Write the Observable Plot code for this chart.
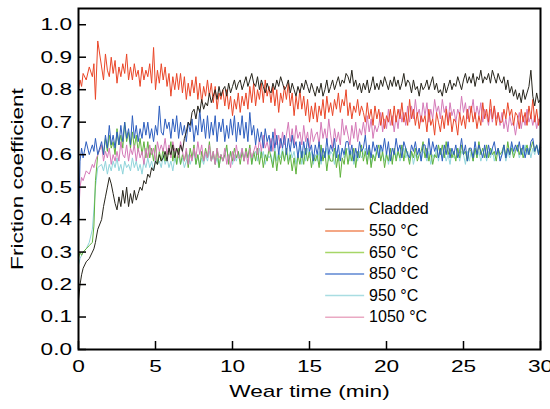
<!DOCTYPE html>
<html><head><meta charset="utf-8">
<script src="https://cdn.jsdelivr.net/npm/d3@7"></script>
<script src="https://cdn.jsdelivr.net/npm/@observablehq/plot@0.6"></script>
<style>
html,body{margin:0;padding:0;background:#fff;}
</style>
</head><body><div id="chart"></div>
<script>
const series = ["Cladded", "550 °C", "650 °C", "850 °C", "950 °C", "1050 °C"];
const xTicks = [0, 5, 10, 15, 20, 25, 30];
const yTicks = [0, 0.1, 0.2, 0.3, 0.4, 0.5, 0.6, 0.7, 0.8, 0.9, 1.0];

const time = [
0,0.1,0.2,0.3,0.5,0.7,0.9,1,1.1,1.25,
1.5,1.625,1.75,1.875,2,2.125,2.25,2.375,
2.5,2.625,2.75,2.875,3,3.125,3.25,3.375,
3.5,3.625,3.75,3.875,4,4.125,4.25,4.375,
4.5,4.625,4.75,4.875,5,5.125,5.25,5.375,
5.5,5.625,5.75,5.875,6,6.125,6.25,6.375,
6.5,6.625,6.75,6.875,7,7.125,7.25,7.375,
7.5,7.625,7.75,7.875,8,8.125,8.25,8.375,
8.5,8.625,8.75,8.875,9,9.125,9.25,9.375,
9.5,9.625,9.75,9.875,10,10.125,10.25,10.375,
10.5,10.625,10.75,10.875,11,11.125,11.25,11.375,
11.5,11.625,11.75,11.875,12,12.125,12.25,12.375,
12.5,12.625,12.75,12.875,13,13.125,13.25,13.375,
13.5,13.625,13.75,13.875,14,14.125,14.25,14.375,
14.5,14.625,14.75,14.875,15,15.125,15.25,15.375,
15.5,15.625,15.75,15.875,16,16.125,16.25,16.375,
16.5,16.625,16.75,16.875,17,17.125,17.25,17.375,
17.5,17.625,17.75,17.875,18,18.125,18.25,18.375,
18.5,18.625,18.75,18.875,19,19.125,19.25,19.375,
19.5,19.625,19.75,19.875,20,20.125,20.25,20.375,
20.5,20.625,20.75,20.875,21,21.125,21.25,21.375,
21.5,21.625,21.75,21.875,22,22.125,22.25,22.375,
22.5,22.625,22.75,22.875,23,23.125,23.25,23.375,
23.5,23.625,23.75,23.875,24,24.125,24.25,24.375,
24.5,24.625,24.75,24.875,25,25.125,25.25,25.375,
25.5,25.625,25.75,25.875,26,26.125,26.25,26.375,
26.5,26.625,26.75,26.875,27,27.125,27.25,27.375,
27.5,27.625,27.75,27.875,28,28.125,28.25,28.375,
28.5,28.625,28.75,28.875,29,29.125,29.25,29.375,
29.5,29.625,29.75,29.875,30];

const cladded = [
0.15,0.20,0.23,0.25,0.27,0.28,0.30,0.31,0.33,0.37,
0.40,0.44,0.47,0.50,0.53,0.51,0.48,0.45,
0.43,0.47,0.44,0.49,0.45,0.50,0.44,0.48,
0.45,0.49,0.46,0.48,0.50,0.49,0.52,0.51,
0.54,0.53,0.56,0.55,0.58,0.57,0.60,0.58,
0.59,0.61,0.58,0.62,0.60,0.63,0.59,0.62,
0.60,0.63,0.61,0.65,0.67,0.70,0.69,0.73,
0.74,0.71,0.75,0.73,0.77,0.74,0.76,0.75,
0.79,0.76,0.78,0.80,0.77,0.81,0.78,0.80,
0.81,0.78,0.82,0.79,0.81,0.83,0.80,0.82,
0.83,0.80,0.82,0.84,0.81,0.83,0.85,0.82,
0.81,0.84,0.80,0.83,0.81,0.79,0.82,0.80,
0.79,0.82,0.80,0.83,0.81,0.84,0.82,0.80,
0.81,0.83,0.79,0.82,0.80,0.78,0.81,0.79,
0.82,0.80,0.83,0.81,0.79,0.82,0.80,0.78,
0.81,0.79,0.82,0.78,0.80,0.83,0.79,0.81,
0.83,0.80,0.82,0.84,0.81,0.83,0.82,0.85,
0.84,0.82,0.86,0.81,0.83,0.80,0.82,0.79,
0.82,0.80,0.83,0.79,0.81,0.84,0.80,0.82,
0.80,0.83,0.81,0.84,0.82,0.80,0.83,0.81,
0.84,0.81,0.83,0.80,0.82,0.85,0.81,0.83,
0.82,0.79,0.83,0.80,0.81,0.78,0.82,0.80,
0.81,0.83,0.80,0.82,0.84,0.80,0.82,0.79,
0.80,0.78,0.82,0.79,0.81,0.83,0.80,0.82,
0.81,0.84,0.82,0.80,0.83,0.85,0.82,0.84,
0.82,0.85,0.81,0.84,0.83,0.86,0.82,0.84,
0.83,0.85,0.82,0.86,0.84,0.82,0.85,0.83,
0.82,0.84,0.80,0.83,0.79,0.81,0.78,0.80,
0.77,0.79,0.76,0.80,0.77,0.79,0.81,0.86,
0.78,0.75,0.79,0.76,0.77];

const c550 = [
0.80,0.83,0.81,0.85,0.83,0.87,0.84,0.88,0.77,0.95,
0.87,0.83,0.91,0.86,0.84,0.90,0.85,0.89,
0.82,0.87,0.84,0.88,0.85,0.91,0.83,0.87,
0.83,0.88,0.84,0.86,0.81,0.87,0.83,0.86,
0.84,0.88,0.82,0.93,0.80,0.86,0.82,0.88,
0.83,0.87,0.81,0.85,0.78,0.84,0.80,0.85,
0.80,0.85,0.79,0.84,0.77,0.82,0.78,0.83,
0.79,0.84,0.77,0.82,0.76,0.81,0.78,0.83,
0.78,0.82,0.76,0.81,0.74,0.79,0.77,0.80,
0.75,0.80,0.74,0.78,0.72,0.77,0.74,0.79,
0.73,0.78,0.75,0.79,0.74,0.81,0.76,0.82,
0.75,0.80,0.77,0.82,0.76,0.83,0.78,0.81,
0.76,0.81,0.75,0.80,0.73,0.79,0.76,0.81,
0.77,0.82,0.75,0.79,0.72,0.78,0.74,0.80,
0.74,0.78,0.72,0.77,0.70,0.75,0.71,0.76,
0.70,0.75,0.72,0.77,0.71,0.78,0.73,0.76,
0.72,0.77,0.74,0.79,0.73,0.77,0.75,0.80,
0.72,0.76,0.71,0.75,0.73,0.77,0.72,0.75,
0.73,0.70,0.76,0.71,0.74,0.69,0.75,0.71,
0.74,0.69,0.73,0.68,0.72,0.70,0.74,0.69,
0.75,0.70,0.74,0.71,0.76,0.70,0.73,0.69,
0.77,0.71,0.74,0.69,0.73,0.68,0.72,0.70,
0.72,0.67,0.74,0.69,0.71,0.66,0.73,0.70,
0.67,0.72,0.68,0.74,0.69,0.73,0.67,0.71,
0.70,0.66,0.73,0.69,0.72,0.68,0.74,0.70,
0.75,0.70,0.73,0.68,0.72,0.69,0.76,0.71,
0.74,0.70,0.77,0.71,0.75,0.69,0.73,0.70,
0.70,0.74,0.71,0.76,0.72,0.74,0.69,0.73,
0.72,0.68,0.74,0.70,0.73,0.69,0.75,0.71,
0.77,0.70,0.74,0.69,0.72];

const c650 = [
0.28,0.30,0.29,0.30,0.31,0.32,0.33,0.38,0.52,0.60,
0.63,0.60,0.65,0.61,0.66,0.62,0.64,0.60,
0.68,0.63,0.66,0.62,0.70,0.64,0.67,0.62,
0.67,0.62,0.66,0.61,0.65,0.60,0.64,0.59,
0.64,0.59,0.62,0.58,0.63,0.57,0.61,0.58,
0.62,0.58,0.61,0.60,0.64,0.58,0.62,0.57,
0.62,0.57,0.60,0.58,0.61,0.56,0.62,0.59,
0.63,0.57,0.60,0.56,0.61,0.58,0.62,0.59,
0.64,0.58,0.61,0.57,0.62,0.56,0.60,0.58,
0.60,0.63,0.57,0.61,0.58,0.62,0.59,0.61,
0.57,0.61,0.58,0.62,0.59,0.63,0.57,0.61,
0.58,0.62,0.57,0.61,0.56,0.60,0.58,0.62,
0.59,0.56,0.61,0.55,0.60,0.57,0.61,0.58,
0.62,0.57,0.60,0.55,0.59,0.54,0.60,0.57,
0.61,0.57,0.62,0.58,0.61,0.56,0.60,0.58,
0.60,0.56,0.63,0.58,0.61,0.55,0.60,0.58,
0.58,0.62,0.56,0.60,0.53,0.59,0.57,0.62,
0.57,0.61,0.58,0.62,0.56,0.61,0.59,0.63,
0.58,0.61,0.57,0.62,0.56,0.60,0.58,0.61,
0.63,0.58,0.61,0.56,0.60,0.58,0.62,0.57,
0.62,0.58,0.61,0.59,0.63,0.58,0.62,0.60,
0.57,0.61,0.59,0.62,0.58,0.60,0.61,0.64,
0.59,0.62,0.58,0.61,0.57,0.60,0.59,0.63,
0.60,0.63,0.59,0.64,0.60,0.62,0.59,0.61,
0.58,0.62,0.59,0.63,0.60,0.61,0.58,0.62,
0.61,0.58,0.62,0.59,0.64,0.60,0.62,0.59,
0.63,0.59,0.62,0.60,0.61,0.58,0.62,0.60,
0.61,0.63,0.59,0.64,0.60,0.62,0.59,0.61,
0.63,0.60,0.62,0.59,0.61,0.63,0.60,0.62,
0.64,0.61,0.63,0.60,0.62];

const c850 = [
0.38,0.58,0.62,0.59,0.64,0.60,0.63,0.61,0.65,0.60,
0.64,0.60,0.66,0.62,0.69,0.63,0.66,0.62,
0.67,0.63,0.69,0.64,0.70,0.65,0.68,0.63,
0.72,0.65,0.69,0.64,0.68,0.65,0.70,0.66,
0.70,0.65,0.68,0.64,0.69,0.66,0.75,0.67,
0.66,0.71,0.68,0.70,0.65,0.71,0.67,0.72,
0.65,0.70,0.66,0.69,0.64,0.70,0.67,0.71,
0.64,0.69,0.66,0.74,0.67,0.71,0.65,0.72,
0.65,0.70,0.66,0.72,0.64,0.70,0.67,0.71,
0.64,0.69,0.65,0.71,0.66,0.72,0.64,0.70,
0.66,0.72,0.65,0.70,0.64,0.73,0.66,0.69,
0.63,0.68,0.64,0.67,0.62,0.68,0.64,0.66,
0.61,0.67,0.62,0.66,0.60,0.65,0.62,0.66,
0.60,0.65,0.61,0.66,0.62,0.64,0.59,0.64,
0.59,0.64,0.60,0.65,0.61,0.63,0.58,0.63,
0.60,0.64,0.58,0.62,0.59,0.65,0.60,0.63,
0.61,0.65,0.59,0.63,0.58,0.62,0.60,0.64,
0.64,0.60,0.63,0.58,0.62,0.59,0.64,0.61,
0.62,0.66,0.60,0.63,0.59,0.64,0.61,0.63,
0.59,0.63,0.61,0.65,0.60,0.64,0.58,0.62,
0.60,0.65,0.61,0.63,0.59,0.64,0.62,0.60,
0.59,0.63,0.61,0.64,0.60,0.62,0.58,0.63,
0.63,0.59,0.65,0.60,0.64,0.61,0.63,0.59,
0.62,0.58,0.63,0.60,0.64,0.59,0.62,0.60,
0.63,0.59,0.61,0.65,0.60,0.63,0.58,0.62,
0.62,0.59,0.64,0.60,0.63,0.61,0.59,0.63,
0.59,0.63,0.60,0.62,0.64,0.60,0.62,0.58,
0.60,0.63,0.59,0.62,0.60,0.64,0.61,0.63,
0.61,0.64,0.60,0.63,0.59,0.62,0.60,0.64,
0.65,0.61,0.63,0.60,0.64];

const c950 = [
0.26,0.28,0.29,0.30,0.31,0.33,0.37,0.43,0.50,0.56,
0.57,0.55,0.58,0.54,0.57,0.55,0.58,0.56,
0.59,0.55,0.57,0.54,0.58,0.56,0.57,0.55,
0.59,0.56,0.58,0.55,0.57,0.54,0.58,0.56,
0.59,0.56,0.58,0.55,0.59,0.57,0.58,0.56,
0.60,0.57,0.59,0.56,0.58,0.55,0.59,0.57,
0.60,0.57,0.59,0.56,0.58,0.60,0.57,0.59,
0.61,0.57,0.60,0.56,0.59,0.57,0.60,0.58,
0.61,0.58,0.60,0.57,0.59,0.56,0.60,0.58,
0.60,0.62,0.58,0.61,0.57,0.60,0.58,0.61,
0.59,0.62,0.58,0.61,0.59,0.62,0.57,0.60,
0.61,0.58,0.62,0.59,0.61,0.57,0.60,0.59,
0.60,0.57,0.62,0.58,0.61,0.59,0.62,0.58,
0.61,0.58,0.62,0.59,0.61,0.57,0.60,0.62,
0.57,0.61,0.58,0.62,0.59,0.61,0.57,0.60,
0.58,0.61,0.57,0.60,0.59,0.62,0.58,0.61,
0.60,0.57,0.61,0.58,0.60,0.62,0.59,0.61,
0.62,0.58,0.61,0.57,0.60,0.58,0.61,0.59,
0.60,0.62,0.58,0.61,0.57,0.60,0.59,0.62,
0.59,0.62,0.60,0.58,0.61,0.57,0.60,0.58,
0.61,0.59,0.62,0.58,0.60,0.62,0.59,0.61,
0.58,0.61,0.57,0.60,0.59,0.62,0.58,0.61,
0.60,0.58,0.61,0.57,0.60,0.59,0.62,0.58,
0.62,0.59,0.61,0.58,0.60,0.57,0.61,0.59,
0.59,0.62,0.58,0.61,0.60,0.57,0.61,0.58,
0.61,0.58,0.62,0.59,0.61,0.58,0.60,0.62,
0.58,0.61,0.59,0.62,0.58,0.60,0.61,0.59,
0.60,0.62,0.58,0.61,0.59,0.63,0.60,0.62,
0.62,0.59,0.61,0.60,0.63,0.60,0.62,0.59,
0.62,0.60,0.63,0.61,0.62];

const c1050 = [
0.40,0.50,0.53,0.52,0.55,0.54,0.57,0.56,0.58,0.60,
0.63,0.58,0.61,0.59,0.62,0.57,0.60,0.58,
0.61,0.58,0.64,0.60,0.59,0.63,0.58,0.62,
0.60,0.63,0.58,0.62,0.59,0.61,0.57,0.62,
0.59,0.63,0.60,0.62,0.58,0.64,0.61,0.63,
0.61,0.65,0.60,0.63,0.59,0.64,0.61,0.62,
0.59,0.64,0.61,0.58,0.62,0.57,0.60,0.58,
0.62,0.59,0.64,0.60,0.63,0.58,0.61,0.59,
0.63,0.58,0.61,0.57,0.62,0.59,0.60,0.58,
0.62,0.57,0.60,0.56,0.61,0.58,0.63,0.59,
0.59,0.62,0.58,0.61,0.57,0.62,0.59,0.61,
0.63,0.60,0.65,0.61,0.66,0.62,0.64,0.61,
0.65,0.61,0.68,0.63,0.66,0.62,0.67,0.63,
0.66,0.70,0.64,0.68,0.63,0.69,0.65,0.67,
0.63,0.69,0.64,0.67,0.62,0.68,0.64,0.66,
0.67,0.63,0.70,0.65,0.68,0.64,0.71,0.66,
0.62,0.68,0.64,0.67,0.63,0.71,0.66,0.69,
0.66,0.63,0.69,0.65,0.70,0.64,0.68,0.66,
0.70,0.66,0.72,0.67,0.71,0.65,0.69,0.67,
0.69,0.73,0.67,0.71,0.68,0.74,0.69,0.72,
0.67,0.72,0.68,0.74,0.70,0.73,0.69,0.75,
0.70,0.75,0.71,0.77,0.72,0.74,0.70,0.76,
0.72,0.76,0.70,0.74,0.71,0.77,0.73,0.75,
0.71,0.77,0.73,0.75,0.70,0.76,0.72,0.74,
0.70,0.74,0.72,0.78,0.73,0.76,0.71,0.75,
0.73,0.77,0.71,0.75,0.72,0.76,0.70,0.74,
0.72,0.69,0.74,0.70,0.75,0.71,0.73,0.69,
0.73,0.68,0.71,0.67,0.72,0.69,0.70,0.66,
0.70,0.73,0.68,0.72,0.69,0.74,0.70,0.72,
0.69,0.72,0.68,0.71,0.70];

const values = [cladded, c550, c650, c850, c950, c1050];
const lineColors = ["#27251c", "#ea4628", "#5fb23c", "#2d5ebf", "#8fd4db", "#d579b8"];
const legendColors = ["#8b806c", "#f08a5c", "#a6d667", "#5d86d2", "#a9dde2", "#eaa9c3"];
const drawOrder = [4, 2, 5, 3, 1, 0];

const rows = [];
for (const i of drawOrder) {
  const n = Math.min(time.length, values[i].length);
  for (let k = 0; k < n; k++) rows.push({t: time[k], v: values[i][k], s: series[i]});
}

// legend layout (in axis units)
const legendTop = 0.4315, legendStep = 0.0664, legendX1 = 16.05, legendX2 = 18.58, legendTextX = 18.87;
const legendRows = series.map((s, i) => ({s, ly: legendTop - i * legendStep, c: legendColors[i]}));

const plot = Plot.plot({
  width: 550, height: 409,
  marginLeft: 78, marginRight: 10, marginTop: 8, marginBottom: 60,
  style: {fontFamily: "'Liberation Sans', Arial, sans-serif", fontSize: "17px", color: "black", background: "white"},
  x: {domain: [0, 30]},
  y: {domain: [0, 1.05]},
  color: {domain: series, range: lineColors},
  marks: [
    Plot.line(rows, {x: "t", y: "v", z: "s", stroke: "s", strokeWidth: 1}),
    ...legendRows.map(r => Plot.ruleY([r], {y: "ly", x1: legendX1, x2: legendX2, stroke: r.c, strokeWidth: 1.5})),
    Plot.text(legendRows, {x: legendTextX, y: "ly", text: "s", textAnchor: "start", fontSize: 16, fill: "black"}),
    Plot.frame({stroke: "black", strokeWidth: 2}),
    Plot.axisX({ticks: xTicks, tickSize: -8, tickPadding: 18, strokeWidth: 1.5, tickFormat: d => String(d),
      label: "Wear time (min)", labelAnchor: "center", labelArrow: "none", labelOffset: 47}),
    Plot.axisY({ticks: yTicks, tickSize: -8, tickPadding: 14.5, strokeWidth: 1.5, tickFormat: d => d.toFixed(1),
      label: "Friction coefficient", labelAnchor: "center", labelArrow: "none", labelOffset: 68})
  ]
});
document.getElementById("chart").append(plot);

// the reference's axis lettering is drawn horizontally widened
const stretch = 1.33;
plot.querySelectorAll('g[aria-label="x-axis tick label"] text, g[aria-label="y-axis tick label"] text, g[aria-label="x-axis label"] text, g[aria-label="y-axis label"] text').forEach(el => {
  const len = el.getComputedTextLength();
  el.setAttribute("textLength", (len * stretch).toFixed(1));
  el.setAttribute("lengthAdjust", "spacingAndGlyphs");
});
</script>
</body></html>
